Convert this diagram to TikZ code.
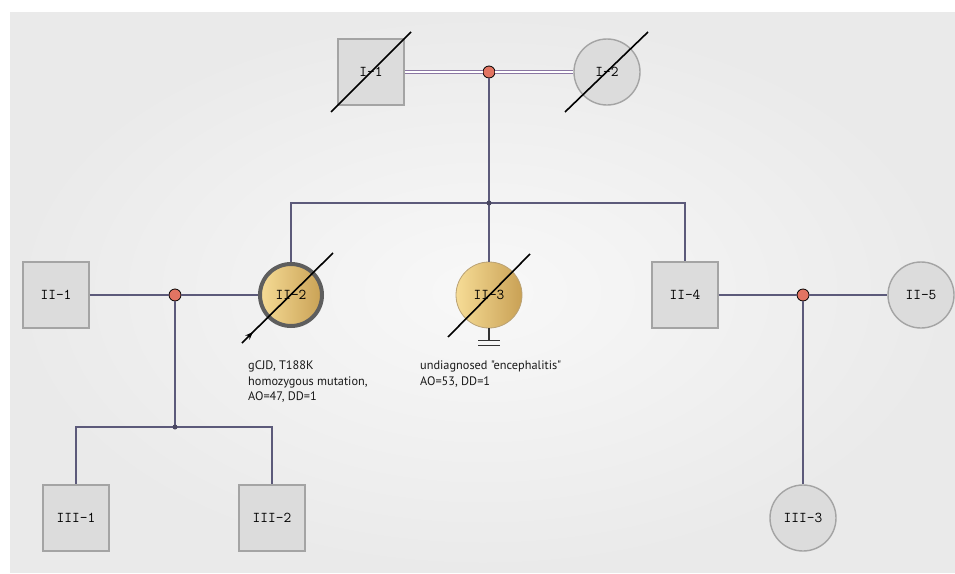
\documentclass[tikz,border=0pt]{standalone}
\usepackage{fontspec}
\newfontfamily\notefont{PT Sans}
\usetikzlibrary{arrows.meta,shadows}
\definecolor{paneledge}{HTML}{EAEAEA}
\definecolor{panelmid}{HTML}{F8F8F8}
\definecolor{boxfill}{HTML}{DCDCDC}
\definecolor{boxedge}{HTML}{A4A4A4}
\definecolor{linkcol}{HTML}{5C5A7A}
\definecolor{matecol}{HTML}{8A76A2}
\definecolor{knot}{HTML}{E27462}
\definecolor{goldlight}{HTML}{F6DC96}
\definecolor{golddark}{HTML}{C9A155}
\definecolor{ringcol}{HTML}{5E5E5E}
\begin{document}
\begin{tikzpicture}[x=1pt,y=-1pt,
  person/.style={minimum size=66pt, inner sep=0pt, fill=boxfill, draw=boxedge,
    line width=1.4pt, text=black, font=\ttfamily\fontsize{15}{15}\selectfont},
  male/.style={person, rectangle,
    drop shadow={opacity=0.18, shadow xshift=1.2pt, shadow yshift=-1.2pt}},
  female/.style={person, circle},
  affected/.style={left color=goldlight, right color=golddark},
  link/.style={draw=linkcol, line width=1.2pt},
  slash/.style={draw=black, line width=1.6pt},
  knotdot/.style={circle, fill=knot, draw=black, line width=0.8pt,
    minimum size=12pt, inner sep=0pt},
  sibdot/.style={circle, fill=linkcol!80!black, minimum size=5pt, inner sep=0pt},
  nokids/.style={draw=black!80, line width=1.6pt},
  note/.style={font=\notefont\fontsize{12.3}{15.5}\selectfont, text=black!90,
    align=left, anchor=north west, inner sep=0pt}]
\useasboundingbox (0,0) rectangle (955,573);
\fill[white] (0,0) rectangle (955,573);
\shade[inner color=panelmid, outer color=paneledge] (10,12) rectangle (955,572);

% generation I
\node[male] (I1) at (371,72) {I-1};
\node[female] (I2) at (607,72) {I-2};
\node[knotdot] (m1) at (489,72) {};
\coordinate (s1) at (489,203);

% generation II
\node[male] (II1) at (56,295) {II-1};
\node[female, affected, draw=ringcol, line width=4pt, minimum size=62pt] (II2) at (291,295) {II-2};
\node[female, affected, draw=golddark!60!boxedge, line width=0.8pt] (II3) at (489,295) {II-3};
\node[male] (II4) at (685,295) {II-4};
\node[female] (II5) at (921,295) {II-5};
\node[knotdot] (m2) at (175,295) {};
\node[knotdot] (m3) at (803,295) {};
\coordinate (s2) at (175,427);

% generation III
\node[male] (III1) at (76,518) {III-1};
\node[male] (III2) at (272,518) {III-2};
\node[female] (III3) at (803,518) {III-3};

% couples
\draw[draw=matecol, line width=1.1pt, double=white, double distance=2.4pt] (I1.east) -- (m1.west);
\draw[draw=matecol, line width=1.1pt, double=white, double distance=2.4pt] (m1.east) -- (I2.west);
\draw[link] (II1.east) -- (m2.west);
\draw[link] (m2.east) -- (II2.west);
\draw[link] (II4.east) -- (m3.west);
\draw[link] (m3.east) -- (II5.west);

% descent lines
\draw[link] (m1.south) -- (s1);
\draw[link] (s1) -| (II2.north);
\draw[link] (s1) -- (II3.north);
\draw[link] (s1) -| (II4.north);
\draw[link] (m2.south) -- (s2);
\draw[link] (s2) -| (III1.north);
\draw[link] (s2) -| (III2.north);
\draw[link] (m3.south) -- (III3.north);
\node[sibdot] at (s1) {};
\node[sibdot] at (s2) {};

% deceased marks
\draw[slash] (I1.center) ++(-40,40) -- ++(80,-80);
\draw[slash] (I2.center) ++(-42,40) -- ++(83,-80);
\draw[slash] (II2.center) ++(-42,41) -- ++(84,-83);
\draw[slash] (II3.center) ++(-41,42) -- ++(82,-83);

% proband arrow
\draw[slash, -{Stealth[length=8pt, width=6pt]}] (II2.center) ++(-49,48) -- ++(11,-11);

% no offspring mark
\coordinate (nf) at ([yshift=-12pt]II3.south);
\draw[nokids] (II3.south) -- (nf);
\draw[nokids] ([xshift=-11pt]nf) -- ([xshift=11pt]nf);
\draw[nokids] ([xshift=-11pt,yshift=-5pt]nf) -- ([xshift=11pt,yshift=-5pt]nf);

% annotations
\node[note] (n2) at (248,361) {gCJD, T188K\\homozygous mutation,\\AO=47, DD=1};
\node[note] (n3) at (420,361) {undiagnosed "encephalitis"\\AO=53, DD=1};
\end{tikzpicture}
\end{document}
